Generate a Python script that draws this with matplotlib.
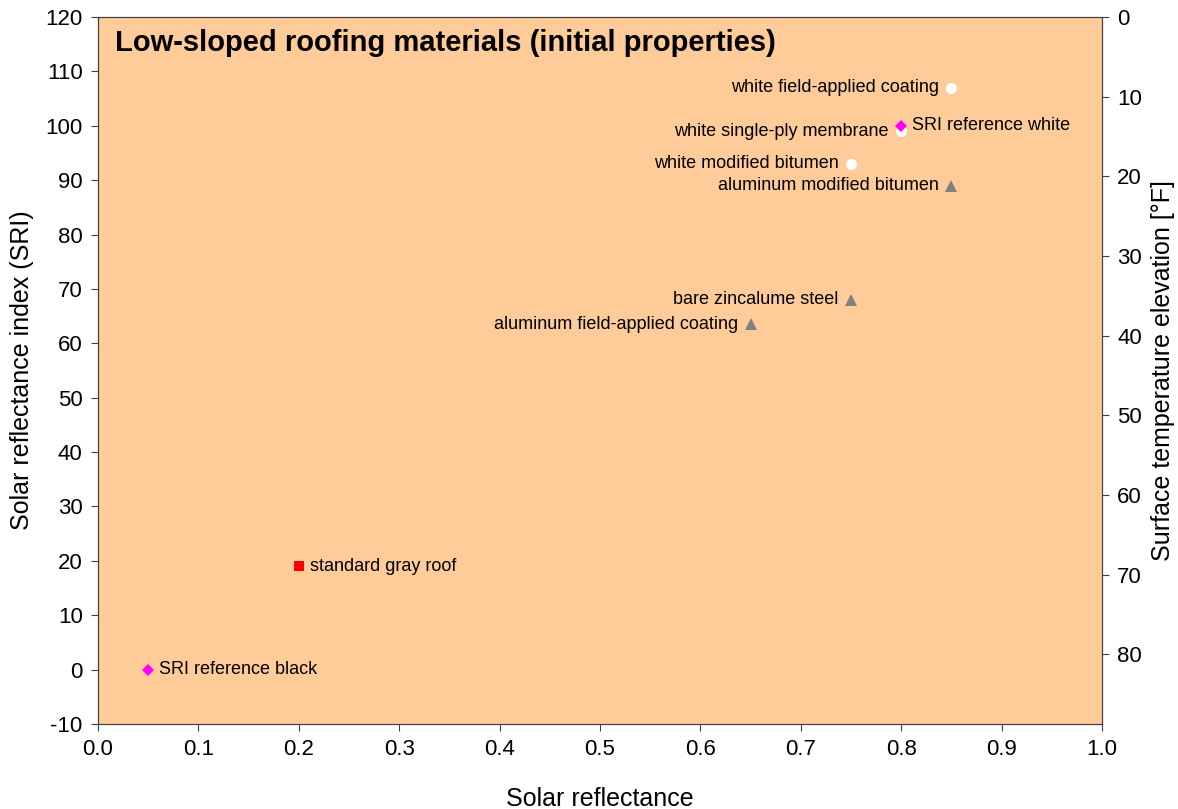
import numpy as np
import matplotlib
matplotlib.use("Agg")
import matplotlib.pyplot as plt

plt.rcParams["font.family"] = ["Liberation Sans", "DejaVu Sans"]
plt.rcParams["axes.unicode_minus"] = False

# -----------------------------
# Data
# -----------------------------
names = [
    "white field-applied coating",
    "white single-ply membrane",
    "white modified bitumen",
    "aluminum modified bitumen",
    "bare zincalume steel",
    "aluminum field-applied coating",
    "standard gray roof",
    "SRI reference white",
    "SRI reference black",
]
reflectance = [0.85, 0.80, 0.75, 0.85, 0.75, 0.65, 0.20, 0.80, 0.05]
sri = [107, 99, 93, 89, 68, 63.5, 19, 100, 0]
kind = ["white", "white", "white", "alum", "alum", "alum", "gray", "ref", "ref"]
label_side = ["left", "left", "left", "left", "left", "left", "right", "right", "right"]

# right-axis conversion: 10 F of surface temperature elevation ~ 14.65 SRI
sri_per_degF = 1.465

styles = {
    "white": dict(marker="o", color="white", ms=8),
    "alum": dict(marker="^", color="#808080", ms=8),
    "gray": dict(marker="s", color="red", ms=7),
    "ref": dict(marker="D", color="#FF00FF", ms=6),
}

# -----------------------------
# Plot
# -----------------------------
fig = plt.figure(figsize=(11.78, 8.09), dpi=100)
ax = fig.add_axes([0.0832, 0.105, 0.8523, 0.874])
ax.set_facecolor("#FFCC99")

for k in ["white", "alum", "gray", "ref"]:
    xs = [x for x, kk in zip(reflectance, kind) if kk == k]
    ys = [y for y, kk in zip(sri, kind) if kk == k]
    ax.plot(xs, ys, linestyle="none", markeredgewidth=0, zorder=3, **styles[k])

for n, x, y, side in zip(names, reflectance, sri, label_side):
    if side == "left":
        ax.annotate(n, (x, y), xytext=(-9, 0), textcoords="offset points",
                    ha="right", va="center", fontsize=13)
    else:
        ax.annotate(n, (x, y), xytext=(8, 0), textcoords="offset points",
                    ha="left", va="center", fontsize=13)

ax.set_xlim(0, 1.0)
ax.set_ylim(-10, 120)
ax.set_xticks(np.arange(0, 1.01, 0.1))
ax.set_xticklabels([f"{v:.1f}" for v in np.arange(0, 1.01, 0.1)])
ax.set_yticks(np.arange(-10, 121, 10))
ax.tick_params(labelsize=16, direction="out", length=5, color="#404040", pad=6)
ax.set_xlabel("Solar reflectance", fontsize=18, labelpad=19)
ax.set_ylabel("Solar reflectance index (SRI)", fontsize=18, labelpad=8)
for s in ax.spines.values():
    s.set_color("#404040")

ax.text(0.017, 0.983, "Low-sloped roofing materials (initial properties)",
        transform=ax.transAxes, fontsize=21, fontweight="bold",
        ha="left", va="top")

ax2 = ax.twinx()
ax2.set_ylim((120 - (-10)) / sri_per_degF, 0)
ax2.set_yticks(np.arange(0, 81, 10))
ax2.tick_params(labelsize=16, direction="out", length=5, color="#404040", pad=6)
ax2.set_ylabel("Surface temperature elevation [°F]", fontsize=18, labelpad=6)
for s in ax2.spines.values():
    s.set_color("#404040")

fig.savefig("out.png", dpi=100)
